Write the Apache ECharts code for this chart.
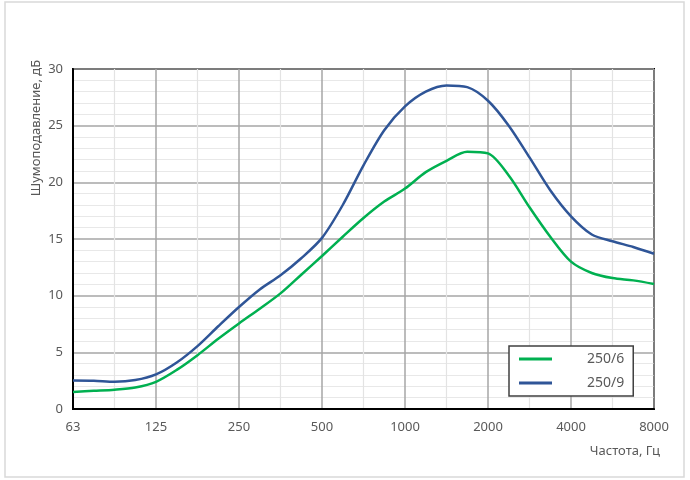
<!DOCTYPE html>
<html>
<head>
<meta charset="utf-8">
<script src="https://cdn.jsdelivr.net/npm/echarts@6/dist/echarts.min.js"></script>
<style>
html, body {margin: 0; padding: 0; background: #fff;}
#chart {width: 690px; height: 480px;}
</style>
</head>
<body>
<div id="chart"></div>
<script>
// octave band labels, Hz
var freqLabels = ['63', '125', '250', '500', '1000', '2000', '4000', '8000'];
// readings every quarter octave (0 = 63 Hz, 7 = 8000 Hz)
var positions = [0, 0.25, 0.5, 0.75, 1, 1.25, 1.5, 1.75, 2, 2.25, 2.5, 2.75, 3, 3.25, 3.5,
    3.75, 4, 4.25, 4.5, 4.75, 5, 5.25, 5.5, 5.75, 6, 6.25, 6.5, 6.75, 7];
var series6 = [1.5, 1.6, 1.7, 1.9, 2.4, 3.45, 4.75, 6.2, 7.55, 8.85, 10.2, 11.85, 13.5, 15.2, 16.85,
    18.3, 19.45, 20.9, 21.9, 22.7, 22.55, 20.6, 17.8, 15.2, 13.0, 12.0, 11.55, 11.35, 11.03];
var series9 = [2.52, 2.5, 2.4, 2.55, 3.05, 4.1, 5.55, 7.3, 9.0, 10.55, 11.8, 13.3, 15.1, 18.0, 21.5,
    24.6, 26.7, 28.0, 28.55, 28.4, 27.2, 25.0, 22.2, 19.3, 17.0, 15.4, 14.8, 14.3, 13.7];
var seriesNames = ['250/6', '250/9'];

function pairs(xs, ys) {
    var out = [];
    for (var i = 0; i < xs.length; i++) {
        out.push([xs[i], ys[i]]);
    }
    return out;
}

var chart = echarts.init(document.getElementById('chart'));
var font = '"Noto Sans", sans-serif';

chart.setOption({
    animation: false,
    grid: {
        left: 73, right: 36, top: 69, bottom: 71,
        show: true,
        borderColor: '#000',
        borderWidth: 2
    },
    graphic: [
        {
            type: 'rect',
            shape: {x: 5, y: 2, width: 679, height: 475},
            style: {fill: 'none', stroke: '#d9d9d9', lineWidth: 1.5},
            silent: true
        },
        {
            type: 'text',
            x: 36, y: 128,
            rotation: Math.PI / 2,
            style: {
                text: 'Шумоподавление, дБ',
                font: '13px ' + font,
                fill: '#595959',
                textAlign: 'center',
                textVerticalAlign: 'middle'
            }
        },
        {
            type: 'text',
            x: 660, y: 451,
            style: {
                text: 'Частота, Гц',
                font: '13px ' + font,
                fill: '#595959',
                textAlign: 'right',
                textVerticalAlign: 'middle'
            }
        }
    ],
    legend: {
        left: 509, top: 346,
        orient: 'vertical',
        backgroundColor: '#fff',
        borderColor: '#404040',
        borderWidth: 1.5,
        padding: [6, 9, 6, 10],
        itemGap: 10,
        itemWidth: 33,
        itemHeight: 3,
        icon: 'rect',
        textStyle: {fontSize: 14, fontFamily: font, color: '#595959', padding: [0, 0, 0, 30]},
        data: seriesNames
    },
    xAxis: {
        type: 'value',
        min: 0, max: 7, interval: 1,
        axisLine: {show: true, lineStyle: {color: '#000', width: 2}},
        axisTick: {show: false},
        axisLabel: {
            color: '#595959', fontSize: 13, fontFamily: font, margin: 12,
            formatter: function (v) { return freqLabels[Math.round(v)]; }
        },
        splitLine: {show: true, lineStyle: {color: '#a6a6a6', width: 1.5}},
        minorTick: {show: false, splitNumber: 2},
        minorSplitLine: {show: true, lineStyle: {color: '#e3e3e3', width: 1.2}}
    },
    yAxis: {
        type: 'value',
        min: 0, max: 30, interval: 5,
        axisLine: {show: true, lineStyle: {color: '#000', width: 2}},
        axisTick: {show: false},
        axisLabel: {color: '#595959', fontSize: 13, fontFamily: font, margin: 10},
        splitLine: {show: true, lineStyle: {color: '#a6a6a6', width: 1.5}},
        minorTick: {show: false, splitNumber: 5},
        minorSplitLine: {show: true, lineStyle: {color: '#e8e8e8', width: 1}}
    },
    series: [
        {
            name: seriesNames[0],
            type: 'line',
            smooth: 0.3,
            symbol: 'none',
            lineStyle: {color: '#00b050', width: 2.5},
            itemStyle: {color: '#00b050'},
            data: pairs(positions, series6)
        },
        {
            name: seriesNames[1],
            type: 'line',
            smooth: 0.3,
            symbol: 'none',
            lineStyle: {color: '#2f5597', width: 2.5},
            itemStyle: {color: '#2f5597'},
            data: pairs(positions, series9)
        }
    ]
});
</script>
</body>
</html>
